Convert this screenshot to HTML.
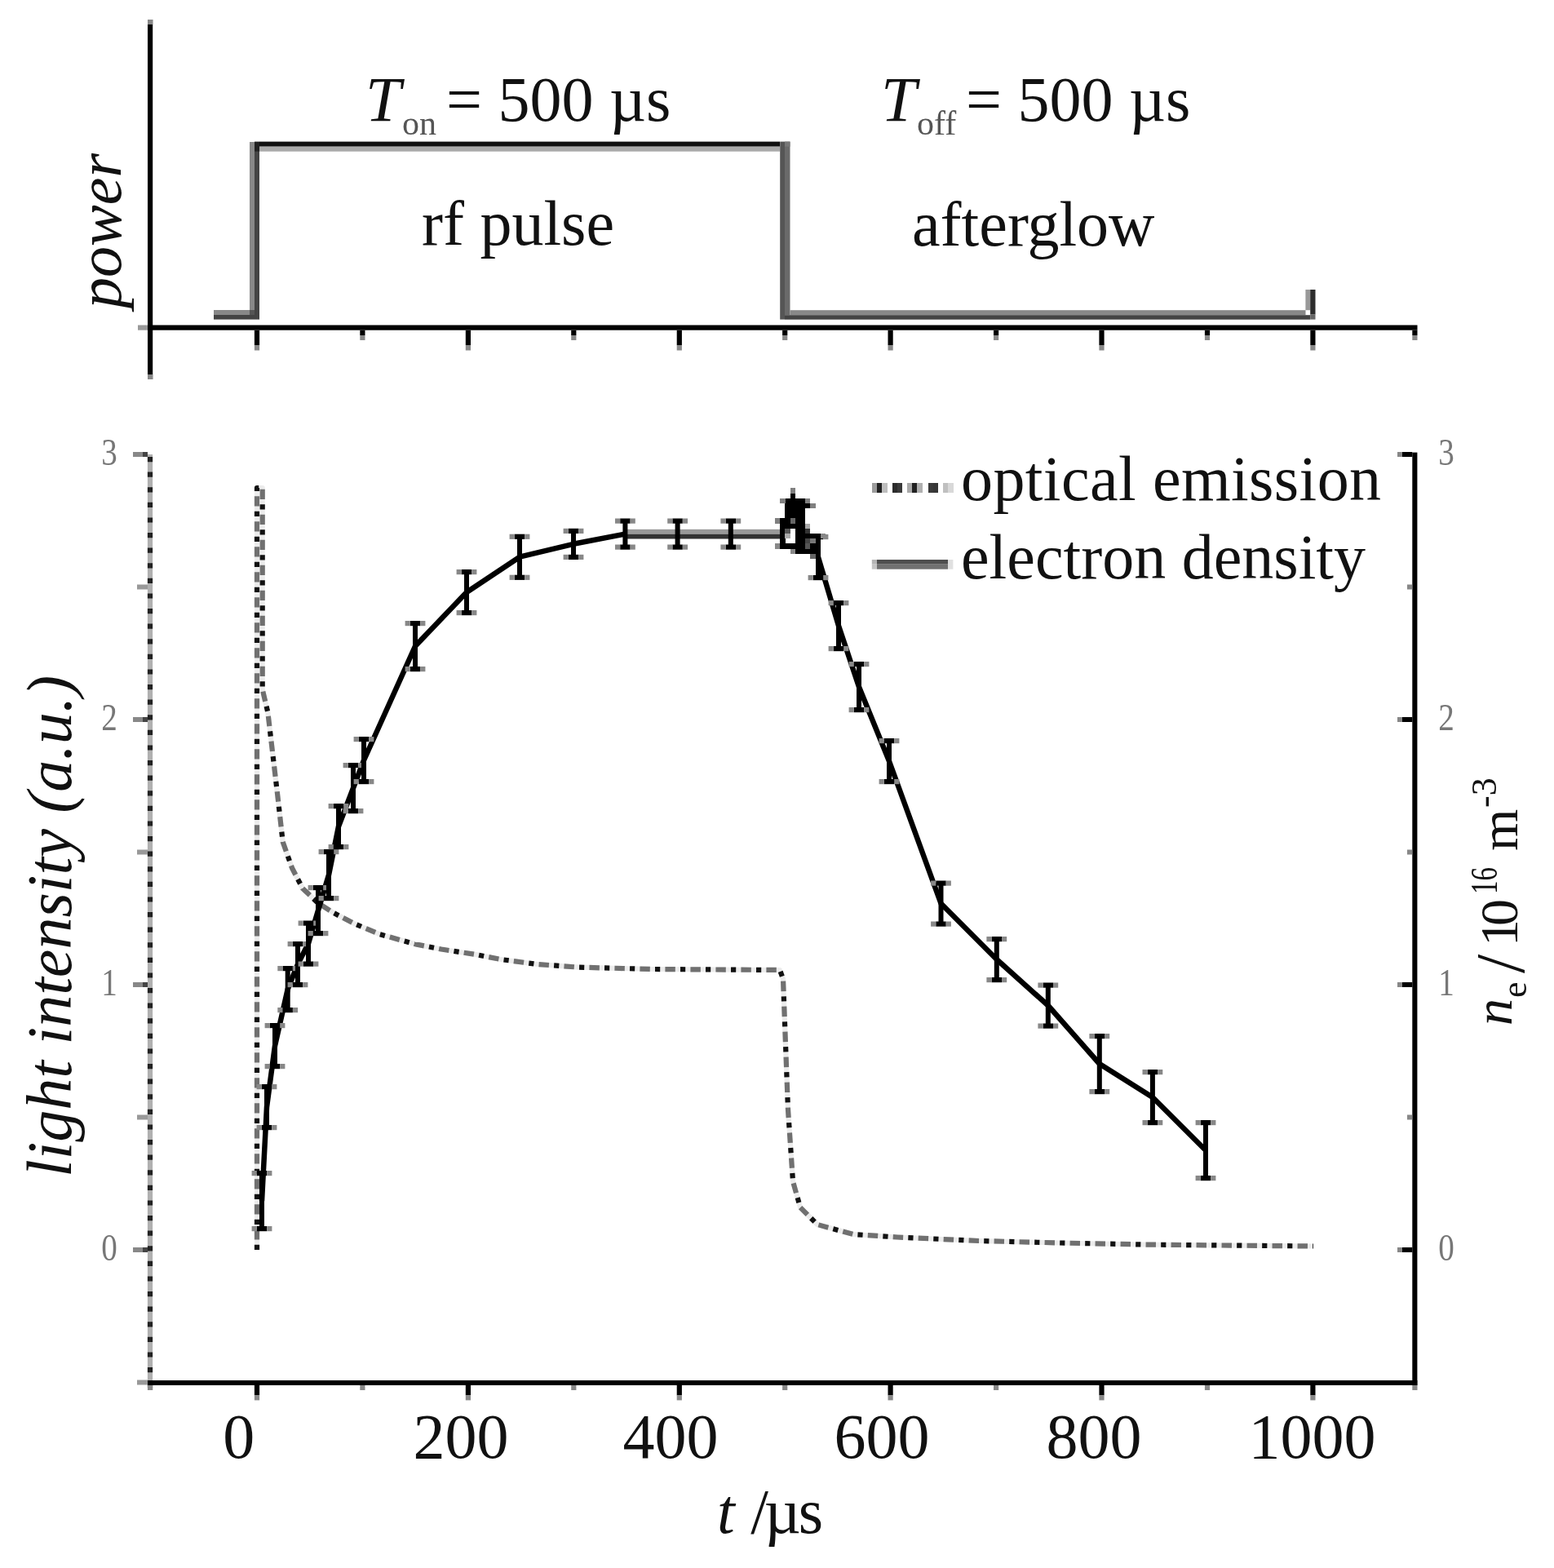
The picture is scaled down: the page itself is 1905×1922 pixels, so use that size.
<!DOCTYPE html>
<html><head><meta charset="utf-8"><title>Pulsed plasma: optical emission and electron density</title>
<style>html,body{margin:0;padding:0;background:#fff;} svg{display:block;}</style></head>
<body>
<svg width="1905" height="1922" viewBox="0 0 1905 1922"><rect width="100%" height="100%" fill="#fff"/><rect x="181" y="24" width="6.2" height="441" fill="#000"/>
<rect x="181" y="24" width="6.2" height="6" fill="#888"/>
<rect x="181" y="459" width="6.2" height="6" fill="#888"/>
<rect x="181" y="398.5" width="1556.5" height="6.2" fill="#000"/>
<rect x="169" y="398.5" width="12" height="6.2" fill="#999"/>
<rect x="311.9" y="404.7" width="6.2" height="18.3" fill="#000"/>
<rect x="311.9" y="423" width="6.2" height="6.5" fill="#888"/>
<rect x="441.3" y="404.7" width="6.2" height="6.3" fill="#000"/>
<rect x="441.3" y="411" width="6.2" height="6" fill="#888"/>
<rect x="570.8" y="404.7" width="6.2" height="18.3" fill="#000"/>
<rect x="570.8" y="423" width="6.2" height="6.5" fill="#888"/>
<rect x="700.2" y="404.7" width="6.2" height="6.3" fill="#000"/>
<rect x="700.2" y="411" width="6.2" height="6" fill="#888"/>
<rect x="829.7" y="404.7" width="6.2" height="18.3" fill="#000"/>
<rect x="829.7" y="423" width="6.2" height="6.5" fill="#888"/>
<rect x="959.1" y="404.7" width="6.2" height="6.3" fill="#000"/>
<rect x="959.1" y="411" width="6.2" height="6" fill="#888"/>
<rect x="1088.5" y="404.7" width="6.2" height="18.3" fill="#000"/>
<rect x="1088.5" y="423" width="6.2" height="6.5" fill="#888"/>
<rect x="1218.0" y="404.7" width="6.2" height="6.3" fill="#000"/>
<rect x="1218.0" y="411" width="6.2" height="6" fill="#888"/>
<rect x="1347.4" y="404.7" width="6.2" height="18.3" fill="#000"/>
<rect x="1347.4" y="423" width="6.2" height="6.5" fill="#888"/>
<rect x="1476.9" y="404.7" width="6.2" height="6.3" fill="#000"/>
<rect x="1476.9" y="411" width="6.2" height="6" fill="#888"/>
<rect x="1606.3" y="404.7" width="6.2" height="18.3" fill="#000"/>
<rect x="1606.3" y="423" width="6.2" height="6.5" fill="#888"/>
<rect x="1731.3" y="404.7" width="6.2" height="6.3" fill="#000"/>
<rect x="1731.3" y="411" width="6.2" height="6" fill="#888"/>
<rect x="262" y="380" width="44" height="6" fill="#888"/>
<rect x="262" y="386" width="50" height="5.6" fill="#444"/>
<rect x="306" y="174" width="6" height="206" fill="#888"/>
<rect x="312" y="174" width="6" height="217.6" fill="#444"/>
<rect x="306" y="380" width="6" height="6" fill="#555"/>
<rect x="318" y="173.6" width="638" height="6.1" fill="#111"/>
<rect x="318" y="179.7" width="638" height="6" fill="#aaa"/>
<rect x="312" y="173.6" width="6" height="12" fill="#222"/>
<rect x="956.2" y="173.6" width="5.8" height="218" fill="#555"/>
<rect x="962" y="173.6" width="6.5" height="212.6" fill="#6a6a6a"/>
<rect x="962" y="173.6" width="6.5" height="6.1" fill="#777"/>
<rect x="968.5" y="380.2" width="632" height="6" fill="#888"/>
<rect x="962" y="386.2" width="644.2" height="5.5" fill="#444"/>
<rect x="1600.4" y="355" width="5.8" height="25.2" fill="#999"/>
<rect x="1606.2" y="355" width="6.3" height="30.6" fill="#2d2d2d"/>
<rect x="1606.2" y="385.6" width="6.3" height="6" fill="#666"/>
<text x="448" y="148" font-family='"Liberation Serif", "Times New Roman", serif' font-size="78" font-style="italic" fill="#111">T</text>
<text x="493" y="165" font-family='"Liberation Serif", "Times New Roman", serif' font-size="42" fill="#555">on</text>
<text x="547" y="148" font-family='"Liberation Serif", "Times New Roman", serif' font-size="78" fill="#111">= 500 µs</text>
<text x="1080" y="148" font-family='"Liberation Serif", "Times New Roman", serif' font-size="78" font-style="italic" fill="#111">T</text>
<text x="1124" y="165" font-family='"Liberation Serif", "Times New Roman", serif' font-size="42" fill="#555">off</text>
<text x="1184" y="148" font-family='"Liberation Serif", "Times New Roman", serif' font-size="78" fill="#111">= 500 µs</text>
<text x="517" y="300" font-family='"Liberation Serif", "Times New Roman", serif' font-size="78" fill="#111">rf pulse</text>
<text x="1118" y="301" font-family='"Liberation Serif", "Times New Roman", serif' font-size="78" fill="#111">afterglow</text>
<text transform="translate(148,378) rotate(-90)" font-family='"Liberation Serif", "Times New Roman", serif' font-size="76" font-style="italic" fill="#111">power</text>
<line x1="184" y1="557" x2="184" y2="1704" stroke="#b0b0b0" stroke-width="6.2"/>
<line x1="184" y1="560" x2="184" y2="1704" stroke="#222" stroke-width="6.2" stroke-dasharray="6.2 12.4"/>
<rect x="1731.3" y="554.6" width="6.1" height="1143.4" fill="#000"/>
<rect x="181" y="1692" width="1556.4" height="6" fill="#000"/>
<rect x="181.0" y="1698" width="6.2" height="6" fill="#888"/>
<rect x="311.9" y="1698" width="6.2" height="12.4" fill="#000"/>
<rect x="311.9" y="1710.4" width="6.2" height="6" fill="#888"/>
<rect x="441.3" y="1698" width="6.2" height="6" fill="#888"/>
<rect x="570.8" y="1698" width="6.2" height="12.4" fill="#000"/>
<rect x="570.8" y="1710.4" width="6.2" height="6" fill="#888"/>
<rect x="700.2" y="1698" width="6.2" height="6" fill="#888"/>
<rect x="829.7" y="1698" width="6.2" height="12.4" fill="#000"/>
<rect x="829.7" y="1710.4" width="6.2" height="6" fill="#888"/>
<rect x="959.1" y="1698" width="6.2" height="6" fill="#888"/>
<rect x="1088.5" y="1698" width="6.2" height="12.4" fill="#000"/>
<rect x="1088.5" y="1710.4" width="6.2" height="6" fill="#888"/>
<rect x="1218.0" y="1698" width="6.2" height="6" fill="#888"/>
<rect x="1347.4" y="1698" width="6.2" height="12.4" fill="#000"/>
<rect x="1347.4" y="1710.4" width="6.2" height="6" fill="#888"/>
<rect x="1476.9" y="1698" width="6.2" height="6" fill="#888"/>
<rect x="1606.3" y="1698" width="6.2" height="12.4" fill="#000"/>
<rect x="1606.3" y="1710.4" width="6.2" height="6" fill="#888"/>
<rect x="1731.3" y="1698" width="6.2" height="6" fill="#888"/>
<rect x="168" y="1691.5" width="13" height="6" fill="#999"/>
<rect x="163" y="1529.0" width="12" height="6" fill="#888"/>
<rect x="175" y="1529.0" width="6" height="6" fill="#444"/>
<rect x="168" y="1366.5" width="13" height="6" fill="#999"/>
<rect x="163" y="1204.0" width="12" height="6" fill="#888"/>
<rect x="175" y="1204.0" width="6" height="6" fill="#444"/>
<rect x="168" y="1041.5" width="13" height="6" fill="#999"/>
<rect x="163" y="879.0" width="12" height="6" fill="#888"/>
<rect x="175" y="879.0" width="6" height="6" fill="#444"/>
<rect x="168" y="716.5" width="13" height="6" fill="#999"/>
<rect x="163" y="554.0" width="12" height="6" fill="#888"/>
<rect x="175" y="554.0" width="6" height="6" fill="#444"/>
<rect x="1713" y="1529.0" width="6" height="6" fill="#888"/>
<rect x="1719" y="1529.0" width="12.3" height="6" fill="#000"/>
<rect x="1725" y="1366.5" width="6.3" height="6" fill="#888"/>
<rect x="1713" y="1204.0" width="6" height="6" fill="#888"/>
<rect x="1719" y="1204.0" width="12.3" height="6" fill="#000"/>
<rect x="1725" y="1041.5" width="6.3" height="6" fill="#888"/>
<rect x="1713" y="879.0" width="6" height="6" fill="#888"/>
<rect x="1719" y="879.0" width="12.3" height="6" fill="#000"/>
<rect x="1725" y="716.5" width="6.3" height="6" fill="#888"/>
<rect x="1713" y="554.0" width="6" height="6" fill="#888"/>
<rect x="1719" y="554.0" width="12.3" height="6" fill="#000"/>
<text transform="translate(134,570.0) scale(0.85,1)" text-anchor="middle" font-family='"Liberation Serif", "Times New Roman", serif' font-size="46" fill="#777">3</text>
<text transform="translate(1773,570.0) scale(0.85,1)" text-anchor="middle" font-family='"Liberation Serif", "Times New Roman", serif' font-size="46" fill="#777">3</text>
<text transform="translate(134,895.0) scale(0.85,1)" text-anchor="middle" font-family='"Liberation Serif", "Times New Roman", serif' font-size="46" fill="#777">2</text>
<text transform="translate(1773,895.0) scale(0.85,1)" text-anchor="middle" font-family='"Liberation Serif", "Times New Roman", serif' font-size="46" fill="#777">2</text>
<text transform="translate(134,1220.0) scale(0.85,1)" text-anchor="middle" font-family='"Liberation Serif", "Times New Roman", serif' font-size="46" fill="#777">1</text>
<text transform="translate(1773,1220.0) scale(0.85,1)" text-anchor="middle" font-family='"Liberation Serif", "Times New Roman", serif' font-size="46" fill="#777">1</text>
<text transform="translate(134,1545.0) scale(0.85,1)" text-anchor="middle" font-family='"Liberation Serif", "Times New Roman", serif' font-size="46" fill="#777">0</text>
<text transform="translate(1773,1545.0) scale(0.85,1)" text-anchor="middle" font-family='"Liberation Serif", "Times New Roman", serif' font-size="46" fill="#777">0</text>
<text x="292.7" y="1787" text-anchor="middle" font-family='"Liberation Serif", "Times New Roman", serif' font-size="78" fill="#111">0</text>
<text x="565" y="1787" text-anchor="middle" font-family='"Liberation Serif", "Times New Roman", serif' font-size="78" fill="#111">200</text>
<text x="822" y="1787" text-anchor="middle" font-family='"Liberation Serif", "Times New Roman", serif' font-size="78" fill="#111">400</text>
<text x="1081" y="1787" text-anchor="middle" font-family='"Liberation Serif", "Times New Roman", serif' font-size="78" fill="#111">600</text>
<text x="1341" y="1787" text-anchor="middle" font-family='"Liberation Serif", "Times New Roman", serif' font-size="78" fill="#111">800</text>
<text x="1608.5" y="1787" text-anchor="middle" font-family='"Liberation Serif", "Times New Roman", serif' font-size="78" fill="#111">1000</text>
<text x="879" y="1879" font-family='"Liberation Serif", "Times New Roman", serif' font-size="78" fill="#111"><tspan font-style="italic">t</tspan> /<tspan dx="-5">µ</tspan><tspan dx="-3">s</tspan></text>
<text transform="translate(87,1443) rotate(-90)" font-family='"Liberation Serif", "Times New Roman", serif' font-size="78" font-style="italic" fill="#111">light intensity (a.u.)</text>
<text transform="translate(1853,1257) rotate(-90)" font-family='"Liberation Serif", "Times New Roman", serif' font-size="66" font-style="italic" fill="#111">n</text>
<text transform="translate(1871,1223) rotate(-90)" font-family='"Liberation Serif", "Times New Roman", serif' font-size="44" fill="#111">e</text>
<text transform="translate(1868,1193) rotate(-90)" font-family='"Liberation Serif", "Times New Roman", serif' font-size="84" fill="#111">/</text>
<text transform="translate(1860,1160) rotate(-90)" font-family='"Liberation Serif", "Times New Roman", serif' font-size="66" letter-spacing="-8" fill="#111">10</text>
<text transform="translate(1835,1096) rotate(-90) scale(0.72,1)" font-family='"Liberation Serif", "Times New Roman", serif' font-size="46" fill="#111">16</text>
<text transform="translate(1860,1043) rotate(-90)" font-family='"Liberation Serif", "Times New Roman", serif' font-size="66" fill="#111">m</text>
<text transform="translate(1834,990) rotate(-90)" font-family='"Liberation Serif", "Times New Roman", serif' font-size="44" fill="#111">-3</text>
<rect x="1068.8" y="592" width="6.3" height="12.3" fill="#9c9c9c" shape-rendering="crispEdges"/>
<rect x="1075.0" y="592" width="6.3" height="12.3" fill="#222" shape-rendering="crispEdges"/>
<rect x="1081.2" y="592" width="6.3" height="12.3" fill="#bebebe" shape-rendering="crispEdges"/>
<rect x="1093.9" y="592" width="6.3" height="12.3" fill="#2c2c2c" shape-rendering="crispEdges"/>
<rect x="1100.1" y="592" width="6.3" height="12.3" fill="#3a3a3a" shape-rendering="crispEdges"/>
<rect x="1112.0" y="592" width="6.3" height="12.3" fill="#aaa" shape-rendering="crispEdges"/>
<rect x="1118.2" y="592" width="6.3" height="12.3" fill="#222" shape-rendering="crispEdges"/>
<rect x="1124.4" y="592" width="6.3" height="12.3" fill="#b0b0b0" shape-rendering="crispEdges"/>
<rect x="1137.5" y="592" width="6.3" height="12.3" fill="#3a3a3a" shape-rendering="crispEdges"/>
<rect x="1143.7" y="592" width="6.3" height="12.3" fill="#363636" shape-rendering="crispEdges"/>
<rect x="1156.0" y="592" width="6.3" height="12.3" fill="#c0c0c0" shape-rendering="crispEdges"/>
<rect x="1162.2" y="592" width="6.3" height="12.3" fill="#d8d8d8" shape-rendering="crispEdges"/>
<rect x="1068.8" y="686" width="6.2" height="5.7" fill="#b4b4b4"/>
<rect x="1068.8" y="691.7" width="6.2" height="6" fill="#c4c4c4"/>
<rect x="1075" y="686" width="87" height="5.7" fill="#4e4e4e"/>
<rect x="1075" y="691.7" width="87" height="6" fill="#707070"/>
<rect x="1162" y="686" width="6.4" height="11.7" fill="#e0e0e0"/>
<text x="1178" y="613" font-family='"Liberation Serif", "Times New Roman", serif' font-size="78" letter-spacing="0.4" fill="#111">optical emission</text>
<text x="1178" y="708.7" font-family='"Liberation Serif", "Times New Roman", serif' font-size="78" fill="#111">electron density</text>
<path d="M315,1532 L315,598 L321.7,598 L321.7,845 L328.3,873 L334.3,924 L340.3,975 L346.7,1032 L358,1064 L371,1089 L390,1107 L409,1119 L434,1132 L465,1145 L508,1157 L541,1163.5 L583,1170 L614,1176 L659,1182 L709,1185.6 L800,1188 L956,1189 L960,1200 L963,1280 L966,1360 L972,1448 L981,1480 L1002,1501 L1046,1513 L1100,1516.5 L1200,1521 L1300,1523.5 L1400,1525.5 L1500,1526.5 L1610,1527.5" fill="none" stroke="#ececec" stroke-width="6.2" stroke-linejoin="round"/>
<path d="M315,1532 L315,598 L321.7,598 L321.7,845 L328.3,873 L334.3,924 L340.3,975 L346.7,1032 L358,1064 L371,1089 L390,1107 L409,1119 L434,1132 L465,1145 L508,1157 L541,1163.5 L583,1170 L614,1176 L659,1182 L709,1185.6 L800,1188 L956,1189 L960,1200 L963,1280 L966,1360 L972,1448 L981,1480 L1002,1501 L1046,1513 L1100,1516.5 L1200,1521 L1300,1523.5 L1400,1525.5 L1500,1526.5 L1610,1527.5" fill="none" stroke="#707070" stroke-width="6.2" stroke-dasharray="12.4 18.6" stroke-dashoffset="-12.4" stroke-linejoin="round"/>
<path d="M315,1532 L315,598 L321.7,598 L321.7,845 L328.3,873 L334.3,924 L340.3,975 L346.7,1032 L358,1064 L371,1089 L390,1107 L409,1119 L434,1132 L465,1145 L508,1157 L541,1163.5 L583,1170 L614,1176 L659,1182 L709,1185.6 L800,1188 L956,1189 L960,1200 L963,1280 L966,1360 L972,1448 L981,1480 L1002,1501 L1046,1513 L1100,1516.5 L1200,1521 L1300,1523.5 L1400,1525.5 L1500,1526.5 L1610,1527.5" fill="none" stroke="#111" stroke-width="6.2" stroke-dasharray="6.2 24.8" stroke-linejoin="round"/>
<path d="M321,1472 L327,1357 L337,1282 L352.7,1212.5 L365,1182 L378,1156.5 L390,1116 L403,1072.5 L415,1013 L433,966 L446,932 L509,792 L572,726 L637,682.7 L703,666.8 L766.4,654.5" fill="none" stroke="#000" stroke-width="6.5" stroke-linejoin="round"/>
<path d="M1003,683 1003,683 L1028,767 L1053,842 L1090,933 L1153.5,1107.5 L1221.8,1176 L1284.8,1232.5 L1347.8,1304 L1412.9,1345 L1478,1410" fill="none" stroke="#000" stroke-width="6.5" stroke-linejoin="round"/>
<rect x="766" y="648.8" width="190" height="5.9" fill="#999"/>
<rect x="766" y="654.7" width="190" height="5.8" fill="#333"/>
<rect x="318.0" y="1438.0" width="6" height="68" fill="#000"/>
<rect x="314.8" y="1435.0" width="12.4" height="6.2" fill="#000"/>
<rect x="308.6" y="1435.0" width="6.2" height="6.2" fill="#888"/>
<rect x="327.2" y="1435.0" width="6.2" height="6.2" fill="#888"/>
<rect x="314.8" y="1503.0" width="12.4" height="6.2" fill="#000"/>
<rect x="308.6" y="1503.0" width="6.2" height="6.2" fill="#888"/>
<rect x="327.2" y="1503.0" width="6.2" height="6.2" fill="#888"/>
<rect x="324.0" y="1332.0" width="6" height="50" fill="#000"/>
<rect x="320.8" y="1329.0" width="12.4" height="6.2" fill="#000"/>
<rect x="314.6" y="1329.0" width="6.2" height="6.2" fill="#888"/>
<rect x="333.2" y="1329.0" width="6.2" height="6.2" fill="#888"/>
<rect x="320.8" y="1379.0" width="12.4" height="6.2" fill="#000"/>
<rect x="314.6" y="1379.0" width="6.2" height="6.2" fill="#888"/>
<rect x="333.2" y="1379.0" width="6.2" height="6.2" fill="#888"/>
<rect x="334.0" y="1257.0" width="6" height="50" fill="#000"/>
<rect x="330.8" y="1254.0" width="12.4" height="6.2" fill="#000"/>
<rect x="324.6" y="1254.0" width="6.2" height="6.2" fill="#888"/>
<rect x="343.2" y="1254.0" width="6.2" height="6.2" fill="#888"/>
<rect x="330.8" y="1304.0" width="12.4" height="6.2" fill="#000"/>
<rect x="324.6" y="1304.0" width="6.2" height="6.2" fill="#888"/>
<rect x="343.2" y="1304.0" width="6.2" height="6.2" fill="#888"/>
<rect x="349.7" y="1187.0" width="6" height="51.0" fill="#000"/>
<rect x="346.5" y="1184.0" width="12.4" height="6.2" fill="#000"/>
<rect x="340.3" y="1184.0" width="6.2" height="6.2" fill="#888"/>
<rect x="358.9" y="1184.0" width="6.2" height="6.2" fill="#888"/>
<rect x="346.5" y="1235.0" width="12.4" height="6.2" fill="#000"/>
<rect x="340.3" y="1235.0" width="6.2" height="6.2" fill="#888"/>
<rect x="358.9" y="1235.0" width="6.2" height="6.2" fill="#888"/>
<rect x="362.0" y="1157.0" width="6" height="50" fill="#000"/>
<rect x="358.8" y="1154.0" width="12.4" height="6.2" fill="#000"/>
<rect x="352.6" y="1154.0" width="6.2" height="6.2" fill="#888"/>
<rect x="371.2" y="1154.0" width="6.2" height="6.2" fill="#888"/>
<rect x="358.8" y="1204.0" width="12.4" height="6.2" fill="#000"/>
<rect x="352.6" y="1204.0" width="6.2" height="6.2" fill="#888"/>
<rect x="371.2" y="1204.0" width="6.2" height="6.2" fill="#888"/>
<rect x="375.0" y="1131.5" width="6" height="50" fill="#000"/>
<rect x="371.8" y="1128.5" width="12.4" height="6.2" fill="#000"/>
<rect x="365.6" y="1128.5" width="6.2" height="6.2" fill="#888"/>
<rect x="384.2" y="1128.5" width="6.2" height="6.2" fill="#888"/>
<rect x="371.8" y="1178.5" width="12.4" height="6.2" fill="#000"/>
<rect x="365.6" y="1178.5" width="6.2" height="6.2" fill="#888"/>
<rect x="384.2" y="1178.5" width="6.2" height="6.2" fill="#888"/>
<rect x="387.0" y="1088.0" width="6" height="56" fill="#000"/>
<rect x="383.8" y="1085.0" width="12.4" height="6.2" fill="#000"/>
<rect x="377.6" y="1085.0" width="6.2" height="6.2" fill="#888"/>
<rect x="396.2" y="1085.0" width="6.2" height="6.2" fill="#888"/>
<rect x="383.8" y="1141.0" width="12.4" height="6.2" fill="#000"/>
<rect x="377.6" y="1141.0" width="6.2" height="6.2" fill="#888"/>
<rect x="396.2" y="1141.0" width="6.2" height="6.2" fill="#888"/>
<rect x="400.0" y="1044.0" width="6" height="57.0" fill="#000"/>
<rect x="396.8" y="1041.0" width="12.4" height="6.2" fill="#000"/>
<rect x="390.6" y="1041.0" width="6.2" height="6.2" fill="#888"/>
<rect x="409.2" y="1041.0" width="6.2" height="6.2" fill="#888"/>
<rect x="396.8" y="1098.0" width="12.4" height="6.2" fill="#000"/>
<rect x="390.6" y="1098.0" width="6.2" height="6.2" fill="#888"/>
<rect x="409.2" y="1098.0" width="6.2" height="6.2" fill="#888"/>
<rect x="412.0" y="988.0" width="6" height="50" fill="#000"/>
<rect x="408.8" y="985.0" width="12.4" height="6.2" fill="#000"/>
<rect x="402.6" y="985.0" width="6.2" height="6.2" fill="#888"/>
<rect x="421.2" y="985.0" width="6.2" height="6.2" fill="#888"/>
<rect x="408.8" y="1035.0" width="12.4" height="6.2" fill="#000"/>
<rect x="402.6" y="1035.0" width="6.2" height="6.2" fill="#888"/>
<rect x="421.2" y="1035.0" width="6.2" height="6.2" fill="#888"/>
<rect x="430.0" y="938.0" width="6" height="56" fill="#000"/>
<rect x="426.8" y="935.0" width="12.4" height="6.2" fill="#000"/>
<rect x="420.6" y="935.0" width="6.2" height="6.2" fill="#888"/>
<rect x="439.2" y="935.0" width="6.2" height="6.2" fill="#888"/>
<rect x="426.8" y="991.0" width="12.4" height="6.2" fill="#000"/>
<rect x="420.6" y="991.0" width="6.2" height="6.2" fill="#888"/>
<rect x="439.2" y="991.0" width="6.2" height="6.2" fill="#888"/>
<rect x="443.0" y="906.0" width="6" height="52" fill="#000"/>
<rect x="439.8" y="903.0" width="12.4" height="6.2" fill="#000"/>
<rect x="433.6" y="903.0" width="6.2" height="6.2" fill="#888"/>
<rect x="452.2" y="903.0" width="6.2" height="6.2" fill="#888"/>
<rect x="439.8" y="955.0" width="12.4" height="6.2" fill="#000"/>
<rect x="433.6" y="955.0" width="6.2" height="6.2" fill="#888"/>
<rect x="452.2" y="955.0" width="6.2" height="6.2" fill="#888"/>
<rect x="506.0" y="764.0" width="6" height="56" fill="#000"/>
<rect x="502.8" y="761.0" width="12.4" height="6.2" fill="#000"/>
<rect x="496.6" y="761.0" width="6.2" height="6.2" fill="#888"/>
<rect x="515.2" y="761.0" width="6.2" height="6.2" fill="#888"/>
<rect x="502.8" y="817.0" width="12.4" height="6.2" fill="#000"/>
<rect x="496.6" y="817.0" width="6.2" height="6.2" fill="#888"/>
<rect x="515.2" y="817.0" width="6.2" height="6.2" fill="#888"/>
<rect x="569.0" y="701.0" width="6" height="50" fill="#000"/>
<rect x="565.8" y="698.0" width="12.4" height="6.2" fill="#000"/>
<rect x="559.6" y="698.0" width="6.2" height="6.2" fill="#888"/>
<rect x="578.2" y="698.0" width="6.2" height="6.2" fill="#888"/>
<rect x="565.8" y="748.0" width="12.4" height="6.2" fill="#000"/>
<rect x="559.6" y="748.0" width="6.2" height="6.2" fill="#888"/>
<rect x="578.2" y="748.0" width="6.2" height="6.2" fill="#888"/>
<rect x="634.0" y="657.7" width="6" height="50" fill="#000"/>
<rect x="630.8" y="654.7" width="12.4" height="6.2" fill="#000"/>
<rect x="624.6" y="654.7" width="6.2" height="6.2" fill="#888"/>
<rect x="643.2" y="654.7" width="6.2" height="6.2" fill="#888"/>
<rect x="630.8" y="704.7" width="12.4" height="6.2" fill="#000"/>
<rect x="624.6" y="704.7" width="6.2" height="6.2" fill="#888"/>
<rect x="643.2" y="704.7" width="6.2" height="6.2" fill="#888"/>
<rect x="700.0" y="650.8" width="6" height="32" fill="#000"/>
<rect x="696.8" y="647.8" width="12.4" height="6.2" fill="#000"/>
<rect x="690.6" y="647.8" width="6.2" height="6.2" fill="#888"/>
<rect x="709.2" y="647.8" width="6.2" height="6.2" fill="#888"/>
<rect x="696.8" y="679.8" width="12.4" height="6.2" fill="#000"/>
<rect x="690.6" y="679.8" width="6.2" height="6.2" fill="#888"/>
<rect x="709.2" y="679.8" width="6.2" height="6.2" fill="#888"/>
<rect x="763.4" y="638.5" width="6" height="32" fill="#000"/>
<rect x="760.2" y="635.5" width="12.4" height="6.2" fill="#000"/>
<rect x="754.0" y="635.5" width="6.2" height="6.2" fill="#888"/>
<rect x="772.6" y="635.5" width="6.2" height="6.2" fill="#888"/>
<rect x="760.2" y="667.5" width="12.4" height="6.2" fill="#000"/>
<rect x="754.0" y="667.5" width="6.2" height="6.2" fill="#888"/>
<rect x="772.6" y="667.5" width="6.2" height="6.2" fill="#888"/>
<rect x="827.6" y="638.5" width="6" height="32" fill="#000"/>
<rect x="824.4" y="635.5" width="12.4" height="6.2" fill="#000"/>
<rect x="818.2" y="635.5" width="6.2" height="6.2" fill="#888"/>
<rect x="836.8" y="635.5" width="6.2" height="6.2" fill="#888"/>
<rect x="824.4" y="667.5" width="12.4" height="6.2" fill="#000"/>
<rect x="818.2" y="667.5" width="6.2" height="6.2" fill="#888"/>
<rect x="836.8" y="667.5" width="6.2" height="6.2" fill="#888"/>
<rect x="892.8" y="638.5" width="6" height="32" fill="#000"/>
<rect x="889.6" y="635.5" width="12.4" height="6.2" fill="#000"/>
<rect x="883.4" y="635.5" width="6.2" height="6.2" fill="#888"/>
<rect x="902.0" y="635.5" width="6.2" height="6.2" fill="#888"/>
<rect x="889.6" y="667.5" width="12.4" height="6.2" fill="#000"/>
<rect x="883.4" y="667.5" width="6.2" height="6.2" fill="#888"/>
<rect x="902.0" y="667.5" width="6.2" height="6.2" fill="#888"/>
<rect x="1000.0" y="658.0" width="6" height="50" fill="#000"/>
<rect x="996.8" y="655.0" width="12.4" height="6.2" fill="#000"/>
<rect x="990.6" y="655.0" width="6.2" height="6.2" fill="#888"/>
<rect x="1009.2" y="655.0" width="6.2" height="6.2" fill="#888"/>
<rect x="996.8" y="705.0" width="12.4" height="6.2" fill="#000"/>
<rect x="990.6" y="705.0" width="6.2" height="6.2" fill="#888"/>
<rect x="1009.2" y="705.0" width="6.2" height="6.2" fill="#888"/>
<rect x="1025.0" y="739.0" width="6" height="56" fill="#000"/>
<rect x="1021.8" y="736.0" width="12.4" height="6.2" fill="#000"/>
<rect x="1015.6" y="736.0" width="6.2" height="6.2" fill="#888"/>
<rect x="1034.2" y="736.0" width="6.2" height="6.2" fill="#888"/>
<rect x="1021.8" y="792.0" width="12.4" height="6.2" fill="#000"/>
<rect x="1015.6" y="792.0" width="6.2" height="6.2" fill="#888"/>
<rect x="1034.2" y="792.0" width="6.2" height="6.2" fill="#888"/>
<rect x="1050.0" y="814.0" width="6" height="56" fill="#000"/>
<rect x="1046.8" y="811.0" width="12.4" height="6.2" fill="#000"/>
<rect x="1040.6" y="811.0" width="6.2" height="6.2" fill="#888"/>
<rect x="1059.2" y="811.0" width="6.2" height="6.2" fill="#888"/>
<rect x="1046.8" y="867.0" width="12.4" height="6.2" fill="#000"/>
<rect x="1040.6" y="867.0" width="6.2" height="6.2" fill="#888"/>
<rect x="1059.2" y="867.0" width="6.2" height="6.2" fill="#888"/>
<rect x="1087.0" y="908.0" width="6" height="50" fill="#000"/>
<rect x="1083.8" y="905.0" width="12.4" height="6.2" fill="#000"/>
<rect x="1077.6" y="905.0" width="6.2" height="6.2" fill="#888"/>
<rect x="1096.2" y="905.0" width="6.2" height="6.2" fill="#888"/>
<rect x="1083.8" y="955.0" width="12.4" height="6.2" fill="#000"/>
<rect x="1077.6" y="955.0" width="6.2" height="6.2" fill="#888"/>
<rect x="1096.2" y="955.0" width="6.2" height="6.2" fill="#888"/>
<rect x="1150.5" y="1082.5" width="6" height="50" fill="#000"/>
<rect x="1147.3" y="1079.5" width="12.4" height="6.2" fill="#000"/>
<rect x="1141.1" y="1079.5" width="6.2" height="6.2" fill="#888"/>
<rect x="1159.7" y="1079.5" width="6.2" height="6.2" fill="#888"/>
<rect x="1147.3" y="1129.5" width="12.4" height="6.2" fill="#000"/>
<rect x="1141.1" y="1129.5" width="6.2" height="6.2" fill="#888"/>
<rect x="1159.7" y="1129.5" width="6.2" height="6.2" fill="#888"/>
<rect x="1218.8" y="1151.0" width="6" height="50" fill="#000"/>
<rect x="1215.6" y="1148.0" width="12.4" height="6.2" fill="#000"/>
<rect x="1209.4" y="1148.0" width="6.2" height="6.2" fill="#888"/>
<rect x="1228.0" y="1148.0" width="6.2" height="6.2" fill="#888"/>
<rect x="1215.6" y="1198.0" width="12.4" height="6.2" fill="#000"/>
<rect x="1209.4" y="1198.0" width="6.2" height="6.2" fill="#888"/>
<rect x="1228.0" y="1198.0" width="6.2" height="6.2" fill="#888"/>
<rect x="1281.8" y="1207.5" width="6" height="50" fill="#000"/>
<rect x="1278.6" y="1204.5" width="12.4" height="6.2" fill="#000"/>
<rect x="1272.4" y="1204.5" width="6.2" height="6.2" fill="#888"/>
<rect x="1291.0" y="1204.5" width="6.2" height="6.2" fill="#888"/>
<rect x="1278.6" y="1254.5" width="12.4" height="6.2" fill="#000"/>
<rect x="1272.4" y="1254.5" width="6.2" height="6.2" fill="#888"/>
<rect x="1291.0" y="1254.5" width="6.2" height="6.2" fill="#888"/>
<rect x="1344.8" y="1270.0" width="6" height="68" fill="#000"/>
<rect x="1341.6" y="1267.0" width="12.4" height="6.2" fill="#000"/>
<rect x="1335.4" y="1267.0" width="6.2" height="6.2" fill="#888"/>
<rect x="1354.0" y="1267.0" width="6.2" height="6.2" fill="#888"/>
<rect x="1341.6" y="1335.0" width="12.4" height="6.2" fill="#000"/>
<rect x="1335.4" y="1335.0" width="6.2" height="6.2" fill="#888"/>
<rect x="1354.0" y="1335.0" width="6.2" height="6.2" fill="#888"/>
<rect x="1409.9" y="1314.0" width="6" height="62" fill="#000"/>
<rect x="1406.7" y="1311.0" width="12.4" height="6.2" fill="#000"/>
<rect x="1400.5" y="1311.0" width="6.2" height="6.2" fill="#888"/>
<rect x="1419.1" y="1311.0" width="6.2" height="6.2" fill="#888"/>
<rect x="1406.7" y="1373.0" width="12.4" height="6.2" fill="#000"/>
<rect x="1400.5" y="1373.0" width="6.2" height="6.2" fill="#888"/>
<rect x="1419.1" y="1373.0" width="6.2" height="6.2" fill="#888"/>
<rect x="1475.0" y="1376.0" width="6" height="68" fill="#000"/>
<rect x="1471.8" y="1373.0" width="12.4" height="6.2" fill="#000"/>
<rect x="1465.6" y="1373.0" width="6.2" height="6.2" fill="#888"/>
<rect x="1484.2" y="1373.0" width="6.2" height="6.2" fill="#888"/>
<rect x="1471.8" y="1441.0" width="12.4" height="6.2" fill="#000"/>
<rect x="1465.6" y="1441.0" width="6.2" height="6.2" fill="#888"/>
<rect x="1484.2" y="1441.0" width="6.2" height="6.2" fill="#888"/>
<rect x="968.67" y="604.49" width="6.24" height="6.24" fill="#000" shape-rendering="crispEdges"/>
<rect x="962.48" y="610.68" width="6.24" height="6.24" fill="#000" shape-rendering="crispEdges"/>
<rect x="968.67" y="610.68" width="6.24" height="6.24" fill="#000" shape-rendering="crispEdges"/>
<rect x="974.86" y="610.68" width="6.24" height="6.24" fill="#000" shape-rendering="crispEdges"/>
<rect x="981.05" y="610.68" width="6.24" height="6.24" fill="#000" shape-rendering="crispEdges"/>
<rect x="962.48" y="616.87" width="6.24" height="6.24" fill="#000" shape-rendering="crispEdges"/>
<rect x="968.67" y="616.87" width="6.24" height="6.24" fill="#000" shape-rendering="crispEdges"/>
<rect x="974.86" y="616.87" width="6.24" height="6.24" fill="#000" shape-rendering="crispEdges"/>
<rect x="981.05" y="616.87" width="6.24" height="6.24" fill="#000" shape-rendering="crispEdges"/>
<rect x="987.24" y="616.87" width="6.24" height="6.24" fill="#000" shape-rendering="crispEdges"/>
<rect x="962.48" y="623.06" width="6.24" height="6.24" fill="#000" shape-rendering="crispEdges"/>
<rect x="968.67" y="623.06" width="6.24" height="6.24" fill="#000" shape-rendering="crispEdges"/>
<rect x="974.86" y="623.06" width="6.24" height="6.24" fill="#000" shape-rendering="crispEdges"/>
<rect x="981.05" y="623.06" width="6.24" height="6.24" fill="#000" shape-rendering="crispEdges"/>
<rect x="962.48" y="629.25" width="6.24" height="6.24" fill="#000" shape-rendering="crispEdges"/>
<rect x="968.67" y="629.25" width="6.24" height="6.24" fill="#000" shape-rendering="crispEdges"/>
<rect x="974.86" y="629.25" width="6.24" height="6.24" fill="#000" shape-rendering="crispEdges"/>
<rect x="981.05" y="629.25" width="6.24" height="6.24" fill="#000" shape-rendering="crispEdges"/>
<rect x="956.29" y="635.44" width="6.24" height="6.24" fill="#000" shape-rendering="crispEdges"/>
<rect x="962.48" y="635.44" width="6.24" height="6.24" fill="#000" shape-rendering="crispEdges"/>
<rect x="974.86" y="635.44" width="6.24" height="6.24" fill="#000" shape-rendering="crispEdges"/>
<rect x="981.05" y="635.44" width="6.24" height="6.24" fill="#000" shape-rendering="crispEdges"/>
<rect x="956.29" y="641.63" width="6.24" height="6.24" fill="#000" shape-rendering="crispEdges"/>
<rect x="962.48" y="641.63" width="6.24" height="6.24" fill="#000" shape-rendering="crispEdges"/>
<rect x="968.67" y="641.63" width="6.24" height="6.24" fill="#000" shape-rendering="crispEdges"/>
<rect x="974.86" y="641.63" width="6.24" height="6.24" fill="#000" shape-rendering="crispEdges"/>
<rect x="981.05" y="641.63" width="6.24" height="6.24" fill="#000" shape-rendering="crispEdges"/>
<rect x="956.29" y="647.82" width="6.24" height="6.24" fill="#000" shape-rendering="crispEdges"/>
<rect x="974.86" y="647.82" width="6.24" height="6.24" fill="#000" shape-rendering="crispEdges"/>
<rect x="981.05" y="647.82" width="6.24" height="6.24" fill="#000" shape-rendering="crispEdges"/>
<rect x="956.29" y="654.01" width="6.24" height="6.24" fill="#000" shape-rendering="crispEdges"/>
<rect x="974.86" y="654.01" width="6.24" height="6.24" fill="#000" shape-rendering="crispEdges"/>
<rect x="981.05" y="654.01" width="6.24" height="6.24" fill="#000" shape-rendering="crispEdges"/>
<rect x="987.24" y="654.01" width="6.24" height="6.24" fill="#000" shape-rendering="crispEdges"/>
<rect x="993.43" y="654.01" width="6.24" height="6.24" fill="#000" shape-rendering="crispEdges"/>
<rect x="999.62" y="654.01" width="6.24" height="6.24" fill="#000" shape-rendering="crispEdges"/>
<rect x="956.29" y="660.20" width="6.24" height="6.24" fill="#000" shape-rendering="crispEdges"/>
<rect x="974.86" y="660.20" width="6.24" height="6.24" fill="#000" shape-rendering="crispEdges"/>
<rect x="981.05" y="660.20" width="6.24" height="6.24" fill="#000" shape-rendering="crispEdges"/>
<rect x="999.62" y="660.20" width="6.24" height="6.24" fill="#000" shape-rendering="crispEdges"/>
<rect x="956.29" y="666.39" width="6.24" height="6.24" fill="#000" shape-rendering="crispEdges"/>
<rect x="962.48" y="666.39" width="6.24" height="6.24" fill="#000" shape-rendering="crispEdges"/>
<rect x="968.67" y="666.39" width="6.24" height="6.24" fill="#000" shape-rendering="crispEdges"/>
<rect x="974.86" y="666.39" width="6.24" height="6.24" fill="#000" shape-rendering="crispEdges"/>
<rect x="981.05" y="666.39" width="6.24" height="6.24" fill="#000" shape-rendering="crispEdges"/>
<rect x="993.43" y="666.39" width="6.24" height="6.24" fill="#000" shape-rendering="crispEdges"/>
<rect x="999.62" y="666.39" width="6.24" height="6.24" fill="#000" shape-rendering="crispEdges"/>
<rect x="974.86" y="672.58" width="6.24" height="6.24" fill="#000" shape-rendering="crispEdges"/>
<rect x="981.05" y="672.58" width="6.24" height="6.24" fill="#000" shape-rendering="crispEdges"/>
<rect x="987.24" y="672.58" width="6.24" height="6.24" fill="#000" shape-rendering="crispEdges"/>
<rect x="993.43" y="672.58" width="6.24" height="6.24" fill="#000" shape-rendering="crispEdges"/>
<rect x="999.62" y="672.58" width="6.24" height="6.24" fill="#000" shape-rendering="crispEdges"/>
<rect x="999.62" y="678.77" width="6.24" height="6.24" fill="#000" shape-rendering="crispEdges"/>
<rect x="968.67" y="598.30" width="6.24" height="6.24" fill="#808080" shape-rendering="crispEdges"/>
<rect x="956.29" y="610.68" width="6.24" height="6.24" fill="#808080" shape-rendering="crispEdges"/>
<rect x="987.24" y="610.68" width="6.24" height="6.24" fill="#808080" shape-rendering="crispEdges"/>
<rect x="993.43" y="616.87" width="6.24" height="6.24" fill="#808080" shape-rendering="crispEdges"/>
<rect x="950.10" y="635.44" width="6.24" height="6.24" fill="#808080" shape-rendering="crispEdges"/>
<rect x="968.67" y="635.44" width="6.24" height="6.24" fill="#666" shape-rendering="crispEdges"/>
<rect x="987.24" y="641.63" width="6.24" height="6.24" fill="#aaa" shape-rendering="crispEdges"/>
<rect x="962.48" y="647.82" width="6.24" height="6.24" fill="#555" shape-rendering="crispEdges"/>
<rect x="987.24" y="647.82" width="6.24" height="6.24" fill="#333" shape-rendering="crispEdges"/>
<rect x="962.48" y="654.01" width="6.24" height="6.24" fill="#aaa" shape-rendering="crispEdges"/>
<rect x="1005.81" y="654.01" width="6.24" height="6.24" fill="#888" shape-rendering="crispEdges"/>
<rect x="987.24" y="660.20" width="6.24" height="6.24" fill="#444" shape-rendering="crispEdges"/>
<rect x="993.43" y="660.20" width="6.24" height="6.24" fill="#777" shape-rendering="crispEdges"/>
<rect x="950.10" y="666.39" width="6.24" height="6.24" fill="#888" shape-rendering="crispEdges"/>
<rect x="987.24" y="666.39" width="6.24" height="6.24" fill="#555" shape-rendering="crispEdges"/>
<rect x="968.67" y="672.58" width="6.24" height="6.24" fill="#888" shape-rendering="crispEdges"/>
<rect x="993.43" y="678.77" width="6.24" height="6.24" fill="#666" shape-rendering="crispEdges"/></svg>
</body></html>
